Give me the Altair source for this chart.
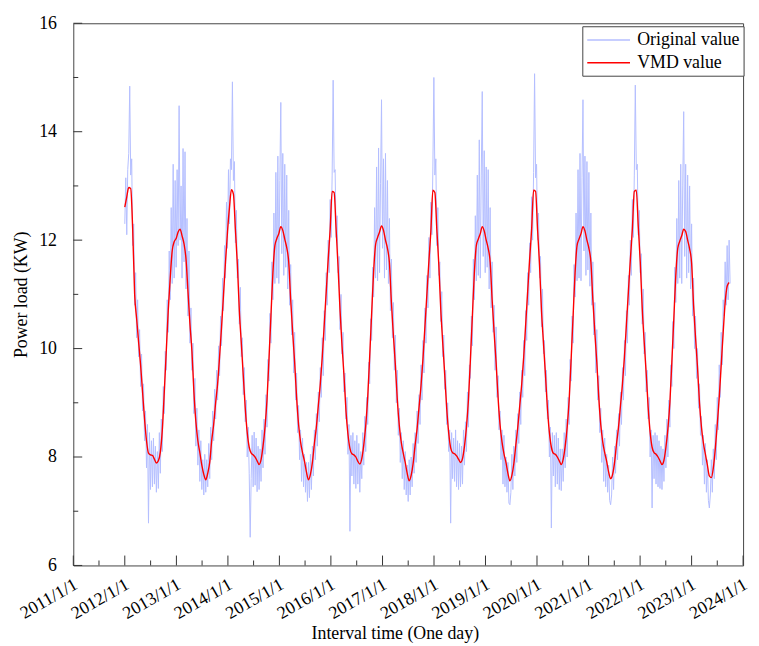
import altair as alt
import pandas as pd

# ---------------- data ----------------
years = list(range(2011, 2025))
y_major = [6, 8, 10, 12, 14, 16]
y_minor = [7, 9, 11, 13, 15]
series_names = ["Original value", "VMD value"]
series_colors = ["#b4beff", "#ff0000"]

# weekly original load (KW), from 2012-01-01
original_value = [
    12.3, 13.15, 12.1, 13.3, 13.6, 14.84, 13.2, 13.5, 11.9, 12.3,
    10.8, 11.4, 10.2, 10.9, 9.85, 10.35, 9.3, 9.9, 8.85, 9.35,
    8.3, 8.85, 7.8, 8.6, 6.78, 8.45, 7.4, 8.3, 7.45, 8.35,
    7.5, 8.2, 7.35, 8.1, 7.42, 8.45, 7.7, 8.7, 8.1, 9.3,
    8.8, 9.95, 9.6, 10.9, 10.3, 11.8, 10.9, 12.6, 11.2, 13.4,
    11.3, 13.1, 11.5, 13.3, 11.9, 14.48, 12.0, 13.0, 11.3, 13.69,
    11.6, 13.63, 11.1, 12.4, 10.6, 11.8, 10.1, 10.75, 9.6, 10.1,
    8.8, 9.45, 8.2, 8.9, 7.85, 8.5, 7.55, 8.3, 7.4, 7.95,
    7.3, 8.05, 7.35, 7.95, 7.45, 8.25, 7.6, 8.55, 7.95, 8.85,
    8.3, 9.25, 8.7, 9.6, 9.05, 10.05, 9.5, 10.6, 10.05, 11.3,
    10.7, 11.9, 11.3, 12.7, 11.85, 13.3, 12.3, 13.5,
    # 2014-2015
    13.3, 14.92, 13.1, 13.45, 11.95, 12.55, 11.3, 11.65, 10.45, 11.13,
    9.85, 10.2, 9.15, 9.65, 8.65, 9.05, 8.0, 8.55, 7.7, 6.52,
    7.6, 8.4, 7.45, 8.46, 7.48, 8.35, 7.36, 8.2, 7.4, 8.15,
    7.55, 8.5, 7.8, 8.7, 8.05, 9.15, 8.55, 9.8, 9.4, 10.65,
    10.1, 11.6, 10.9, 12.5, 11.2, 13.25, 11.3, 13.55, 11.2, 13.1,
    14.54, 11.75, 13.6, 11.35, 13.4, 11.5, 13.2, 11.1, 12.55, 10.8,
    11.55, 10.25, 10.9, 9.55, 10.3, 9.05, 9.55, 8.45, 8.95, 7.95,
    8.5, 7.55, 8.35, 7.45, 8.05, 7.35, 7.9, 7.18, 7.9, 7.25,
    8.05, 7.4, 8.2, 7.65, 8.5, 7.95, 8.8, 8.2, 9.2, 8.65,
    9.65, 9.1, 10.2, 9.5, 10.7, 10.15, 11.4, 10.8, 12.0, 11.4,
    12.75, 12.05,
    # 2016-2017
    13.2, 14.95, 13.25, 13.3, 12.05, 12.45, 11.4, 11.7, 10.35, 11.0,
    9.9, 10.3, 9.2, 9.55, 8.7, 9.1, 8.05, 8.6, 6.63, 8.4,
    7.65, 8.45, 7.5, 8.3, 7.42, 8.4, 7.5, 8.25, 7.35, 8.1,
    7.6, 8.45, 7.85, 8.75, 8.1, 9.1, 8.6, 9.75, 9.35, 10.55,
    10.15, 11.5, 10.95, 12.6, 11.3, 13.35, 11.25, 13.7, 11.4, 13.05,
    14.59, 11.85, 13.5, 11.3, 13.6, 11.45, 13.1, 11.2, 12.4, 10.7,
    11.65, 10.2, 10.85, 9.6, 10.25, 9.0, 9.6, 8.4, 8.9, 7.9,
    8.45, 7.6, 8.3, 7.4, 8.1, 7.3, 7.85, 7.18, 7.95, 7.3,
    8.0, 7.45, 8.25, 7.7, 8.45, 7.9, 8.85, 8.25, 9.15, 8.6,
    9.7, 9.05, 10.15, 9.55, 10.75, 10.1, 11.35, 10.75, 12.05, 11.3,
    12.7, 12.1,
    # 2018-2019
    13.35, 15.0, 13.2, 13.5, 11.9, 12.6, 11.35, 11.6, 10.5, 11.05,
    9.85, 10.25, 9.25, 9.6, 8.6, 9.0, 8.1, 8.5, 6.78, 8.45,
    7.6, 8.35, 7.55, 8.5, 7.45, 8.3, 7.4, 8.25, 7.45, 8.2,
    7.5, 8.5, 7.85, 8.65, 8.1, 9.2, 8.55, 9.7, 9.45, 10.6,
    10.05, 11.65, 10.9, 12.45, 11.25, 13.2, 11.35, 13.85, 11.3, 13.2,
    14.74, 11.7, 13.65, 11.4, 13.35, 11.5, 13.3, 11.1, 12.6, 10.75,
    11.6, 10.3, 10.8, 9.6, 10.4, 9.1, 9.5, 8.5, 8.85, 7.95,
    8.5, 7.5, 8.4, 7.45, 8.0, 7.35, 7.9, 7.15, 7.12, 7.35,
    8.05, 7.4, 8.2, 7.65, 8.5, 7.9, 8.8, 8.25, 9.2, 8.6,
    9.6, 9.1, 10.15, 9.5, 10.7, 10.15, 11.4, 10.8, 11.95, 11.4,
    12.8, 12.0,
    # 2020-2021
    13.25, 15.07, 13.15, 13.4, 12.0, 12.5, 11.3, 11.7, 10.4, 11.1,
    9.9, 10.15, 9.2, 9.6, 8.7, 9.05, 8.0, 8.55, 6.69, 8.45,
    7.65, 8.4, 7.45, 8.45, 7.5, 8.35, 7.4, 8.15, 7.38, 8.15,
    7.55, 8.45, 7.8, 8.7, 8.0, 9.1, 8.6, 9.8, 9.4, 10.6,
    10.1, 11.55, 10.95, 12.5, 11.25, 13.3, 11.3, 13.6, 11.25, 13.15,
    14.59, 11.8, 13.55, 11.35, 13.45, 11.45, 13.25, 11.15, 12.5, 10.8,
    11.6, 10.25, 10.85, 9.55, 10.35, 9.05, 9.5, 8.45, 8.9, 7.9,
    8.5, 7.55, 8.35, 7.45, 8.05, 7.35, 7.85, 7.2, 7.12, 7.3,
    8.0, 7.4, 8.2, 7.7, 8.5, 7.95, 8.8, 8.2, 9.2, 8.6,
    9.65, 9.05, 10.15, 9.5, 10.7, 10.1, 11.35, 10.8, 12.0, 11.35,
    12.75, 12.05,
    # 2022-2023
    13.2, 14.86, 13.3, 13.4, 12.1, 12.55, 11.4, 11.75, 10.45, 11.1,
    9.9, 10.3, 9.2, 9.6, 8.7, 9.1, 8.0, 8.5, 7.06, 8.4,
    7.6, 8.45, 7.5, 8.4, 7.45, 8.3, 7.42, 8.2, 7.4, 8.15,
    7.55, 8.4, 7.8, 8.7, 8.0, 9.05, 8.55, 9.7, 9.3, 10.5,
    10.0, 11.5, 10.85, 12.4, 11.2, 13.1, 11.3, 13.4, 11.2, 13.0,
    14.37, 11.7, 13.4, 11.3, 13.2, 11.4, 13.0, 11.1, 12.3, 10.6,
    11.3, 10.0, 10.6, 9.45, 10.0, 8.9, 9.35, 8.4, 8.75, 7.85,
    8.4, 7.5, 8.25, 7.35, 7.95, 7.2, 7.06, 7.3, 7.95, 7.35,
    8.15, 7.6, 8.6, 7.95, 9.1, 8.5, 9.7, 9.1, 10.3, 9.7,
    10.9, 10.6, 11.6, 10.8, 11.9, 10.9, 12.0, 11.2,
]

# fortnightly VMD reconstruction (KW), from 2012-01-01
vmd_value = [
    12.61, 12.8, 12.97, 12.95, 12.2, 11.0, 10.55, 10.12, 9.7, 9.2,
    8.7, 8.3, 8.07, 8.04, 8.03, 7.96, 7.89, 7.93, 8.09, 8.5,
    9.2, 9.95, 10.7, 11.3, 11.8, 11.97, 12.03, 12.15, 12.2, 12.08,
    11.93, 11.65, 11.05, 10.45, 9.95, 9.2, 8.65, 8.3, 8.08, 7.85,
    7.68, 7.58, 7.7, 7.9, 8.3, 8.6, 9.0, 9.35, 9.85, 10.4,
    11.0, 11.6, 12.15, 12.6,
    12.93, 12.85, 12.2, 11.55, 10.7, 10.1, 9.5, 8.9, 8.45, 8.18,
    8.07, 8.04, 8.0, 7.93, 7.86, 7.95, 8.2, 8.55, 9.05, 9.8,
    10.6, 11.4, 11.9, 12.03, 12.12, 12.25, 12.18, 12.02, 11.86, 11.6,
    10.9, 10.3, 9.75, 9.1, 8.6, 8.28, 8.08, 7.92, 7.72, 7.58,
    7.68, 7.9, 8.25, 8.55, 8.95, 9.35, 9.85, 10.45, 11.05, 11.65,
    12.2,
    12.9, 12.88, 12.2, 11.5, 10.7, 10.05, 9.5, 8.85, 8.42, 8.16,
    8.06, 8.04, 8.0, 7.92, 7.87, 7.97, 8.22, 8.58, 9.1, 9.85,
    10.65, 11.42, 11.92, 12.05, 12.15, 12.26, 12.18, 12.0, 11.85, 11.58,
    10.85, 10.25, 9.7, 9.05, 8.58, 8.27, 8.07, 7.9, 7.7, 7.56,
    7.66, 7.88, 8.22, 8.52, 8.92, 9.32, 9.82, 10.42, 11.02, 11.62,
    12.18,
    12.92, 12.88, 12.2, 11.55, 10.72, 10.1, 9.52, 8.9, 8.45, 8.17,
    8.08, 8.06, 8.02, 7.96, 7.9, 7.97, 8.2, 8.55, 9.05, 9.8,
    10.6, 11.4, 11.9, 12.02, 12.12, 12.25, 12.17, 12.0, 11.85, 11.6,
    10.9, 10.3, 9.75, 9.1, 8.6, 8.28, 8.06, 7.9, 7.7, 7.56,
    7.66, 7.88, 8.22, 8.55, 8.95, 9.35, 9.85, 10.45, 11.05, 11.65,
    12.2,
    12.92, 12.9, 12.2, 11.55, 10.7, 10.1, 9.52, 8.9, 8.45, 8.18,
    8.07, 8.05, 8.0, 7.93, 7.86, 7.96, 8.2, 8.55, 9.05, 9.8,
    10.6, 11.4, 11.9, 12.02, 12.12, 12.25, 12.17, 12.0, 11.85, 11.6,
    10.9, 10.3, 9.75, 9.1, 8.6, 8.28, 8.08, 7.92, 7.72, 7.6,
    7.68, 7.9, 8.25, 8.55, 8.95, 9.35, 9.85, 10.45, 11.05, 11.65,
    12.2,
    12.9, 12.92, 12.25, 11.6, 10.75, 10.12, 9.55, 8.92, 8.46, 8.18,
    8.08, 8.05, 8.0, 7.93, 7.86, 7.94, 8.18, 8.52, 9.0, 9.75,
    10.55, 11.35, 11.85, 11.98, 12.08, 12.2, 12.16, 12.0, 11.84, 11.58,
    10.8, 10.2, 9.65, 9.0, 8.55, 8.25, 8.05, 7.85, 7.65, 7.62,
    7.8, 8.15, 8.6, 9.1, 9.7, 10.3, 10.85, 11.15, 11.22,
]

blue_df = pd.DataFrame({
    "date": pd.date_range("2012-01-01", periods=len(original_value), freq="7D"),
    "value": original_value,
    "series": series_names[0],
})
red_df = pd.DataFrame({
    "date": pd.date_range("2012-01-01", periods=len(vmd_value), freq="14D"),
    "value": vmd_value,
    "series": series_names[1],
})
x_major_df = pd.DataFrame({"d": pd.to_datetime([f"{y}-01-01" for y in years])})
x_minor_df = pd.DataFrame({"d": pd.to_datetime([f"{y}-07-02" for y in years[:-1]])})
y_major_df = pd.DataFrame({"v": y_major})
y_minor_df = pd.DataFrame({"v": y_minor})

# ---------------- styling ----------------
W, H = 677, 548
FONT = "Liberation Serif"
INK = "#333333"

x_scale = alt.Scale(domain=[alt.DateTime(year=2011, month=1, date=1),
                            alt.DateTime(year=2024, month=1, date=1)])
y_scale = alt.Scale(domain=[6, 16], nice=False, zero=False)
major_years = [alt.DateTime(year=y, month=1, date=1) for y in years]

color = alt.Color(
    "series:N",
    scale=alt.Scale(domain=series_names, range=series_colors),
    legend=alt.Legend(
        title=None, orient="none", legendX=514.5, legendY=3, direction="vertical",
        strokeColor="#444444", fillColor="white", padding=4,
        symbolType="M-1,0H3.8", symbolSize=324, symbolStrokeWidth=1.5,
        symbolOffset=0,
        labelFont=FONT, labelFontSize=18, labelColor="black",
        labelOffset=31.5, rowPadding=3.8,
    ),
)

label_x_axis = alt.Axis(
    orient="bottom", values=major_years, format="%Y/%-m/%-d", formatType="time",
    labelAngle=-30, labelAlign="right", labelBaseline="top", labelPadding=10,
    labelOffset=-2, labelFlush=False, labelOverlap=False,
    ticks=False, domain=False, grid=False,
    title="Interval time (One day)", titleX=325, titleY=74, titleBaseline="alphabetic",
)
label_y_axis = alt.Axis(
    orient="left", values=y_major, labelPadding=17, labelOverlap=False,
    ticks=False, domain=False, grid=False,
    title="Power load (KW)", titleX=-52, titleY=274, titleAngle=270,
    titleBaseline="middle", titleAlign="center",
)

blue_line = alt.Chart(blue_df).mark_line(strokeWidth=1).encode(
    x=alt.X("date:T", scale=x_scale, axis=label_x_axis),
    y=alt.Y("value:Q", scale=y_scale, axis=label_y_axis),
    color=color,
)
red_line = alt.Chart(red_df).mark_line(strokeWidth=1.4, interpolate="monotone").encode(
    x=alt.X("date:T", scale=x_scale, axis=None),
    y=alt.Y("value:Q", scale=y_scale, axis=None),
    color=color,
)

# inward frame ticks, placed through the scales
x_major_ticks = alt.Chart(x_major_df).mark_rule(color=INK, strokeWidth=1).encode(
    x=alt.X("d:T", scale=x_scale, axis=None), y=alt.value(H), y2=alt.value(H - 10))
x_minor_ticks = alt.Chart(x_minor_df).mark_rule(color=INK, strokeWidth=1).encode(
    x=alt.X("d:T", scale=x_scale, axis=None), y=alt.value(H), y2=alt.value(H - 5))
y_major_ticks = alt.Chart(y_major_df).mark_rule(color=INK, strokeWidth=1).encode(
    y=alt.Y("v:Q", scale=y_scale, axis=None), x=alt.value(0), x2=alt.value(9))
y_minor_ticks = alt.Chart(y_minor_df).mark_rule(color=INK, strokeWidth=1).encode(
    y=alt.Y("v:Q", scale=y_scale, axis=None), x=alt.value(0), x2=alt.value(5))

chart = (
    alt.layer(blue_line, red_line, x_major_ticks, x_minor_ticks, y_major_ticks, y_minor_ticks)
    .resolve_axis(x="independent", y="independent")
    .properties(
        width=W, height=H,
        padding={"left": 66, "top": 12, "right": 8, "bottom": 80},
        autosize=alt.AutoSizeParams(type="none"),
    )
    .configure_view(stroke="#444444", strokeWidth=1)
    .configure_axis(
        labelFont=FONT, labelFontSize=18, labelColor="black",
        titleFont=FONT, titleFontSize=18, titleColor="black", titleFontWeight="normal",
        grid=False,
    )
)

chart.save("out.html", embed_options={"renderer": "svg", "actions": False})
